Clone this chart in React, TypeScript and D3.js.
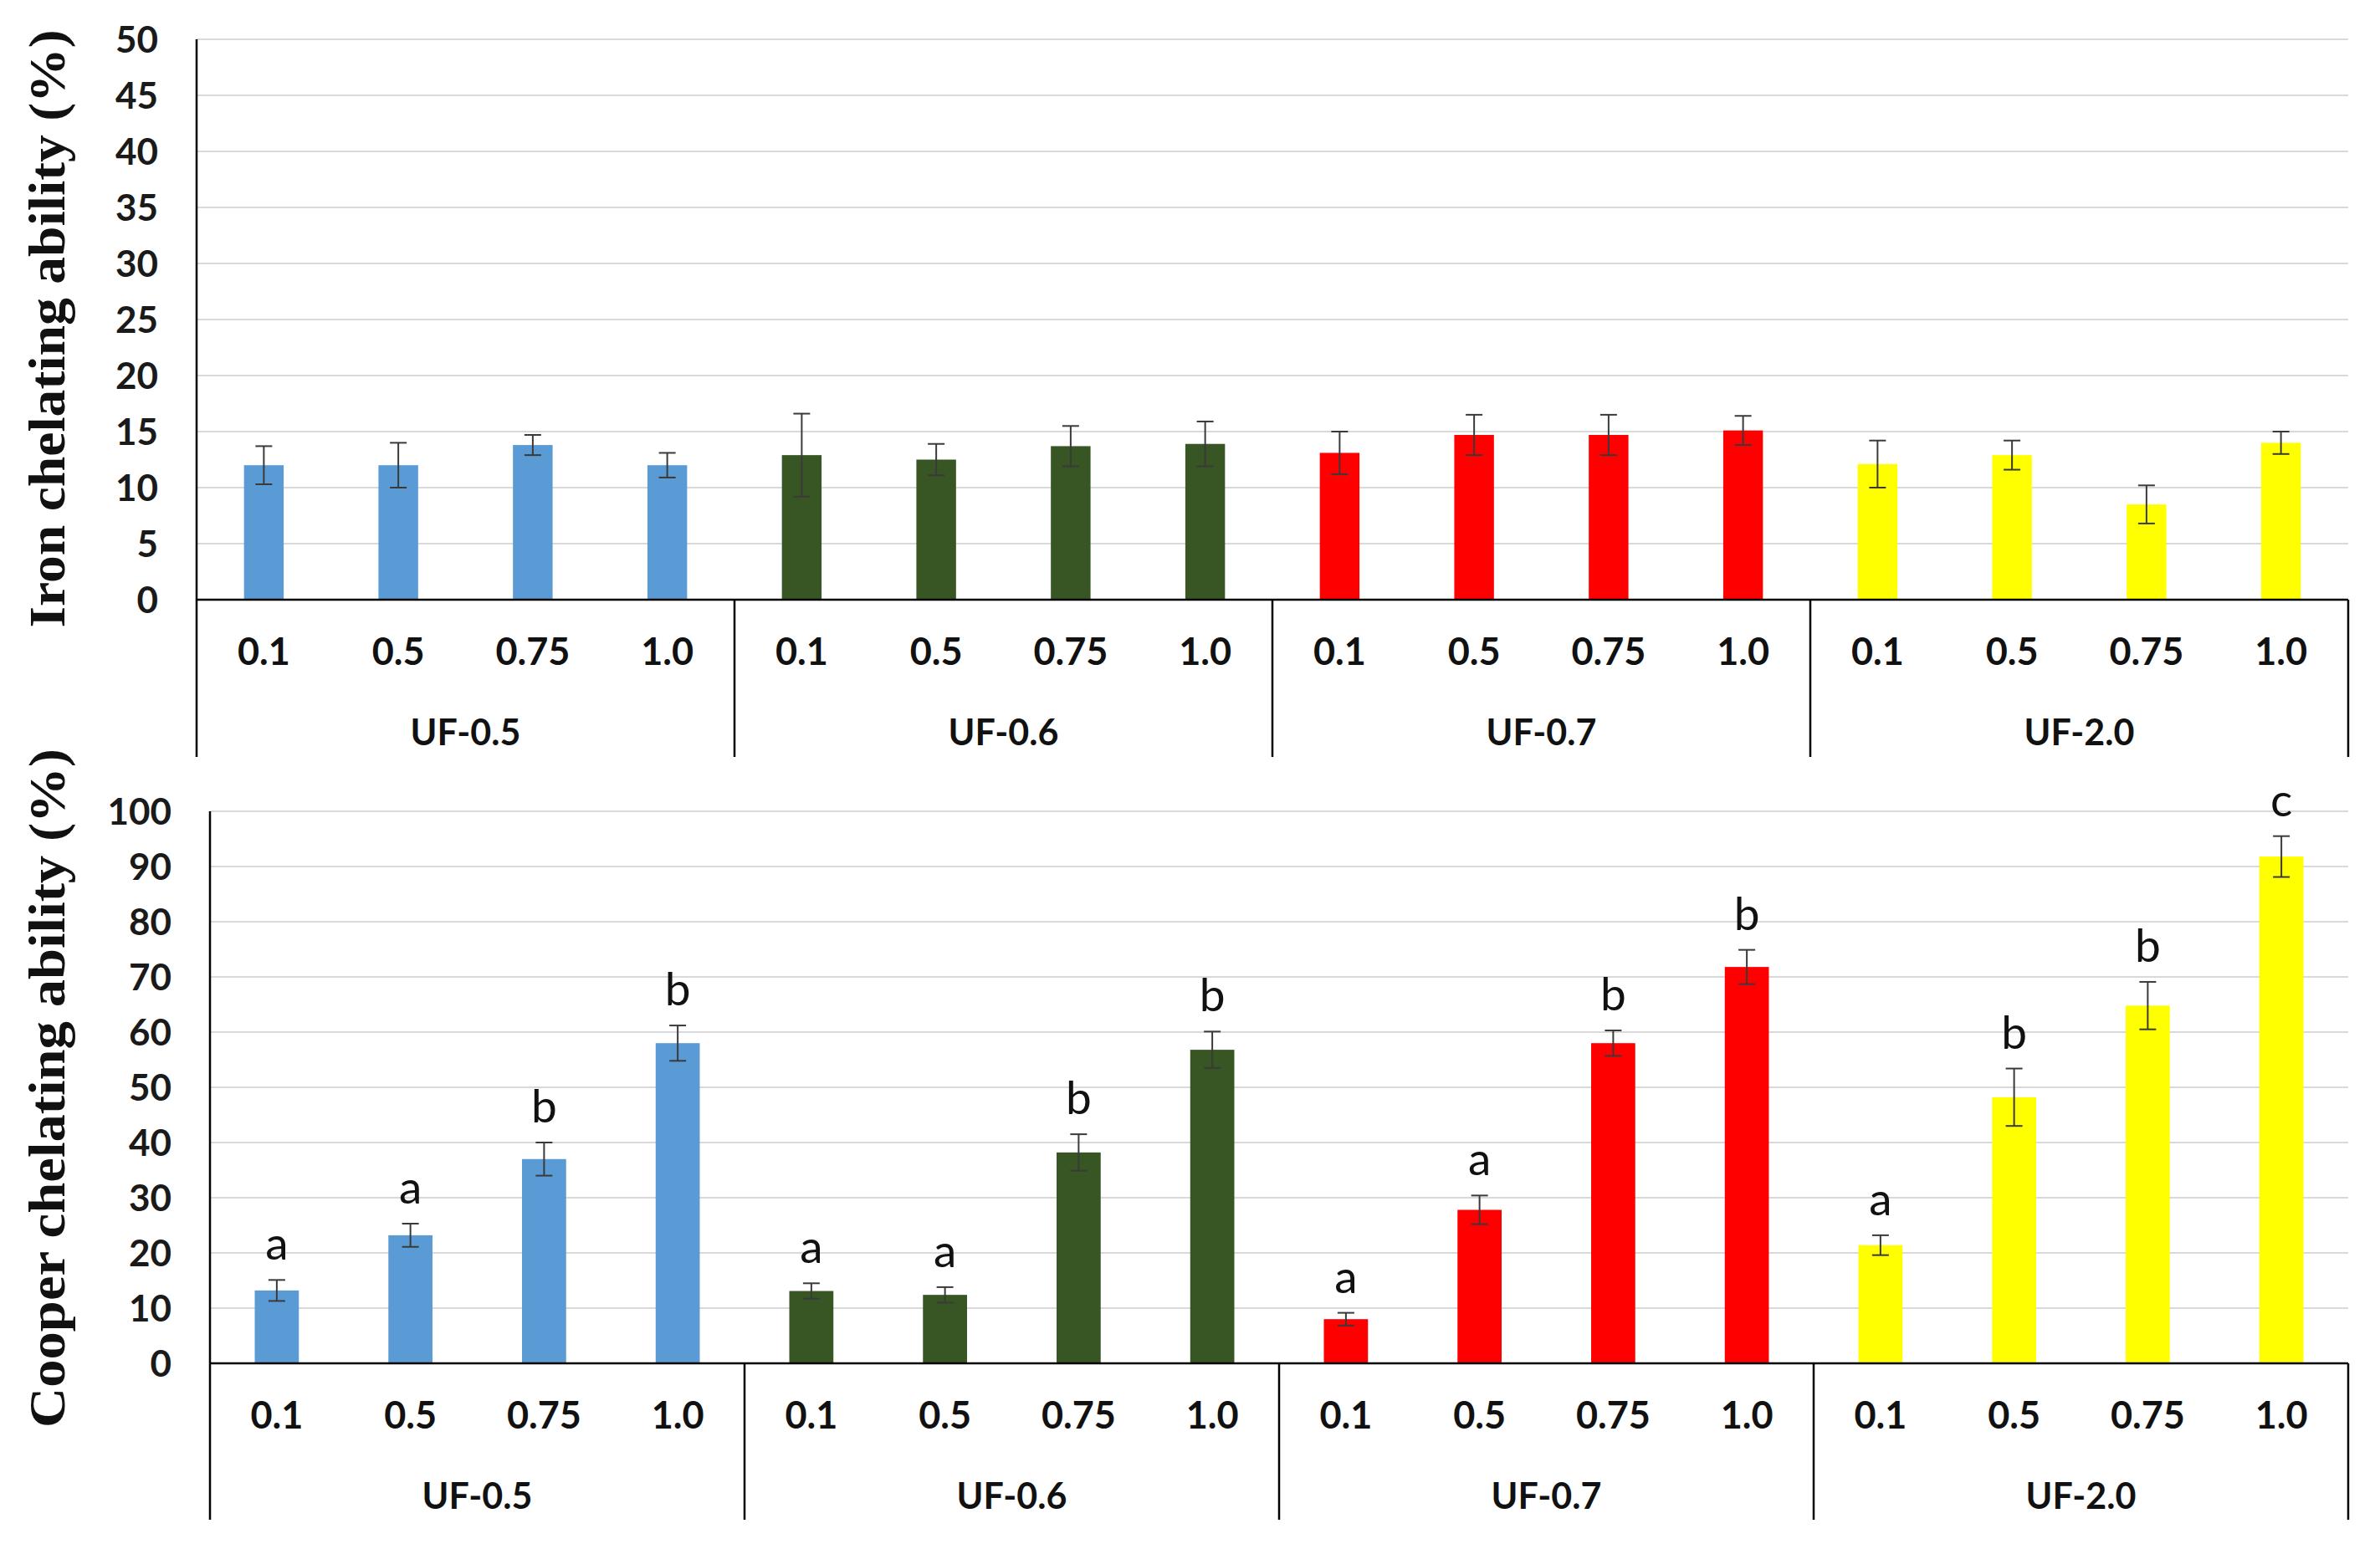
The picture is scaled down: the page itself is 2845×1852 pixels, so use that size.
import React from 'react';
import * as d3 from 'd3';

const groups = ['UF-0.5', 'UF-0.6', 'UF-0.7', 'UF-2.0'];
const concentrations = ['0.1', '0.5', '0.75', '1.0'];
const groupColors = ['#5B9BD5', '#375623', '#FF0000', '#FFFF00'];

const ironValues = [12.0, 12.0, 13.8, 12.0, 12.9, 12.5, 13.7, 13.9, 13.1, 14.7, 14.7, 15.1, 12.1, 12.9, 8.5, 14.0];
const ironErrors = [1.7, 2.0, 0.9, 1.1, 3.7, 1.4, 1.8, 2.0, 1.9, 1.8, 1.8, 1.3, 2.1, 1.3, 1.7, 1.0];
const ironTicks = [0, 5, 10, 15, 20, 25, 30, 35, 40, 45, 50];

const copperValues = [13.2, 23.2, 37.0, 58.0, 13.1, 12.4, 38.2, 56.8, 8.0, 27.8, 58.0, 71.8, 21.4, 48.2, 64.8, 91.8];
const copperErrors = [1.9, 2.1, 3.0, 3.2, 1.4, 1.4, 3.3, 3.3, 1.15, 2.6, 2.3, 3.1, 1.8, 5.2, 4.3, 3.7];
const copperLetters = ['a', 'a', 'b', 'b', 'a', 'a', 'b', 'b', 'a', 'a', 'b', 'b', 'a', 'b', 'b', 'c'];
const copperTicks = [0, 10, 20, 30, 40, 50, 60, 70, 80, 90, 100];

const keys = groups.flatMap((g) => concentrations.map((c) => `${g}|${c}`));

const sansBold = { fontFamily: 'Lato, "Open Sans", sans-serif', fontWeight: 700 };

type PanelProps = {
  left: number;
  right: number;
  top: number;
  zero: number;
  bottom: number;
  max: number;
  ticks: number[];
  values: number[];
  errors: number[];
  letters?: string[];
  barFrac: number;
  title: string;
  titleY: number;
  titleLen: number;
};

const Panel = (p: PanelProps) => {
  const y = d3.scaleLinear().domain([0, p.max]).range([p.zero, p.top]);
  const x = d3.scaleBand<string>().domain(keys).range([p.left, p.right]);
  const gx = d3.scaleBand<string>().domain(groups).range([p.left, p.right]);
  const bw = x.bandwidth() * p.barFrac;

  return (
    <g>
      {p.ticks.map((t) => (
        <g key={t}>
          {t > 0 && (
            <line x1={p.left} x2={p.right} y1={y(t)} y2={y(t)} stroke="#D9D9D9" strokeWidth={2} />
          )}
          <text x={p.left - 46} y={y(t)} dy="0.36em" textAnchor="end" fontSize={44} fill="#1a1a1a" style={sansBold}>
            {t}
          </text>
        </g>
      ))}

      {keys.map((k, i) => {
        const cx = (x(k) as number) + x.bandwidth() / 2;
        const v = p.values[i];
        const e = p.errors[i];
        const color = groupColors[Math.floor(i / concentrations.length)];
        return (
          <g key={k}>
            <rect x={cx - bw / 2} y={y(v)} width={bw} height={p.zero - y(v)} fill={color} />
            <line x1={cx} x2={cx} y1={y(v + e)} y2={y(v - e)} stroke="#3a3a3a" strokeWidth={2} />
            <line x1={cx - 10} x2={cx + 10} y1={y(v + e)} y2={y(v + e)} stroke="#3a3a3a" strokeWidth={2} />
            <line x1={cx - 10} x2={cx + 10} y1={y(v - e)} y2={y(v - e)} stroke="#3a3a3a" strokeWidth={2} />
            {p.letters && (
              <text x={cx} y={y(v + e) - 24} textAnchor="middle" fontSize={55} fill="#111"
                style={{ fontFamily: 'Lato, "Open Sans", sans-serif' }}>
                {p.letters[i]}
              </text>
            )}
            <text x={cx} y={p.zero + 78} textAnchor="middle" fontSize={45} fill="#111" style={sansBold}>
              {concentrations[i % concentrations.length]}
            </text>
          </g>
        );
      })}

      {groups.map((g) => (
        <text key={g} x={(gx(g) as number) + gx.bandwidth() / 2} y={p.zero + 174} textAnchor="middle"
          fontSize={43} fill="#111" style={sansBold}>
          {g}
        </text>
      ))}

      {/* axis lines */}
      <line x1={p.left} x2={p.right} y1={p.zero} y2={p.zero} stroke="#000" strokeWidth={2.5} />
      <line x1={p.left} x2={p.left} y1={p.top} y2={p.bottom} stroke="#000" strokeWidth={2.5} />
      {groups.map((g, i) => {
        if (i === 0) return null;
        const gxPos = gx(g) as number;
        return <line key={g} x1={gxPos} x2={gxPos} y1={p.zero} y2={p.bottom} stroke="#000" strokeWidth={2.5} />;
      })}
      <line x1={p.right} x2={p.right} y1={p.zero} y2={p.bottom} stroke="#000" strokeWidth={2.5} />

      <text transform={`translate(77,${p.titleY}) rotate(-90)`} textAnchor="middle" fontSize={62}
        fill="#111" textLength={p.titleLen} lengthAdjust="spacingAndGlyphs"
        style={{ fontFamily: '"Liberation Serif", "DejaVu Serif", serif', fontWeight: 700 }}>
        {p.title}
      </text>
    </g>
  );
};

const App = () => {
  return (
    <svg width={2845} height={1852} viewBox="0 0 2845 1852"
      style={{ position: 'absolute', left: 0, top: 0, background: '#fff' }}>
      <rect width={2845} height={1852} fill="#fff" />
      <Panel left={235} right={2807} top={47} zero={717} bottom={905} max={50} ticks={ironTicks}
        values={ironValues} errors={ironErrors} barFrac={0.295}
        title="Iron chelating ability (%)" titleY={393} titleLen={715} />
      <Panel left={251} right={2807} top={970} zero={1630} bottom={1817} max={100} ticks={copperTicks}
        values={copperValues} errors={copperErrors} letters={copperLetters} barFrac={0.33}
        title="Cooper chelating ability (%)" titleY={1301} titleLen={812} />
    </svg>
  );
};

export default App;
